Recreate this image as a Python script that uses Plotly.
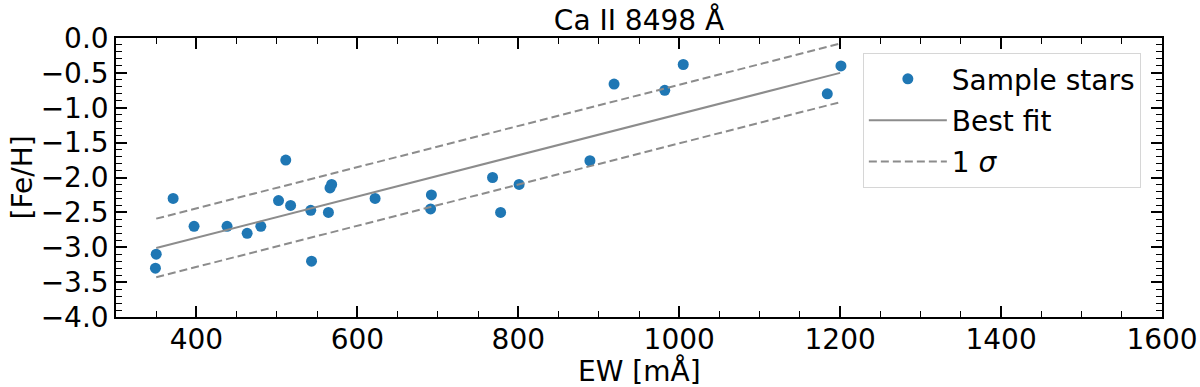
import numpy as np
import plotly.graph_objects as go

# sample stars
ew = [350, 349, 371, 397, 438, 463, 480, 502, 511, 517, 542, 543, 564, 566,
      568, 622, 691, 692, 768, 778, 801, 889, 919, 982, 1005, 1184, 1201]
feh = [-3.10, -3.30, -2.30, -2.70, -2.70, -2.80, -2.70, -2.33, -1.75, -2.40,
       -2.47, -3.20, -2.50, -2.15, -2.10, -2.30, -2.45, -2.25, -2.00, -2.50,
       -2.10, -1.76, -0.66, -0.75, -0.38, -0.80, -0.40]

# fit line and 1 sigma band at the ends of the fitted range
fit_ew = [350, 1200]
fit_feh = [-3.01, -0.50]
upper_feh = [-2.59, -0.08]
lower_feh = [-3.43, -0.92]

font = "DejaVu Sans"
fs = 28
grey = "#8c8c8c"

fig = go.Figure()

fig.add_trace(go.Scatter(x=ew, y=feh, mode="markers", name="Sample stars",
                         marker=dict(color="#1f77b4", size=11),
                         legendgroup="a"))
fig.add_trace(go.Scatter(x=fit_ew, y=fit_feh, mode="lines", name="Best fit",
                         line=dict(color=grey, width=2),
                         legendgroup="b"))
fig.add_trace(go.Scatter(x=fit_ew, y=upper_feh, mode="lines", name="1 <i>σ</i>",
                         line=dict(color=grey, width=2, dash="8px,4px"),
                         legendgroup="c"))
fig.add_trace(go.Scatter(x=fit_ew, y=lower_feh, mode="lines", showlegend=False,
                         line=dict(color=grey, width=2, dash="8px,4px"),
                         legendgroup="c"))

axis_common = dict(
    showline=True, linecolor="black", linewidth=1.5, mirror="ticks",
    ticks="inside", tickcolor="black", tickwidth=1.5, ticklen=11,
    showgrid=False, zeroline=False, automargin=False,
    tickfont=dict(family=font, size=fs, color="black"),
)

fig.update_xaxes(range=[300, 1600], dtick=200, tick0=0, ticklabelstandoff=-3,
                 minor=dict(dtick=50, ticks="inside", ticklen=6,
                            tickcolor="black", tickwidth=1.2),
                 **axis_common)
fig.update_yaxes(range=[-4.0, 0.0], dtick=0.5, tick0=0, tickformat=".1f",
                 minor=dict(dtick=0.1, ticks="inside", ticklen=6,
                            tickcolor="black", tickwidth=1.2),
                 **axis_common)

# axis titles placed as annotations so they sit where the reference has them
fig.add_annotation(text="EW [mÅ]", xref="paper", yref="paper",
                   x=0.5, y=-(371 - 317) / 279, xanchor="center", yanchor="middle",
                   showarrow=False, font=dict(family=font, size=fs, color="black"))
fig.add_annotation(text="[Fe/H]", xref="paper", yref="paper",
                   x=-(116 - 22) / 1046, y=0.5, xanchor="center", yanchor="middle",
                   textangle=-90, showarrow=False,
                   font=dict(family=font, size=fs, color="black"))

fig.update_layout(
    width=1200, height=387,
    margin=dict(l=116, r=38, t=38, b=70),
    paper_bgcolor="white", plot_bgcolor="white",
    title=dict(text="Ca II 8498 Å", x=0.5325, xanchor="center",
               yref="container", y=1 - 20 / 387, yanchor="middle",
               font=dict(family=font, size=fs, color="black")),
    legend=dict(x=0.714, xanchor="left", y=0.946, yanchor="top",
                bgcolor="rgba(255,255,255,0.8)", bordercolor="#d6d6d6", borderwidth=1,
                font=dict(family=font, size=fs, color="black"),
                tracegroupgap=2, itemwidth=78),
    showlegend=True,
)

# page body has a default 8px margin, drop it so the figure fills the window
fig.write_html("out.html", config={"displayModeBar": False},
               post_script="document.body.style.margin='0px';")
